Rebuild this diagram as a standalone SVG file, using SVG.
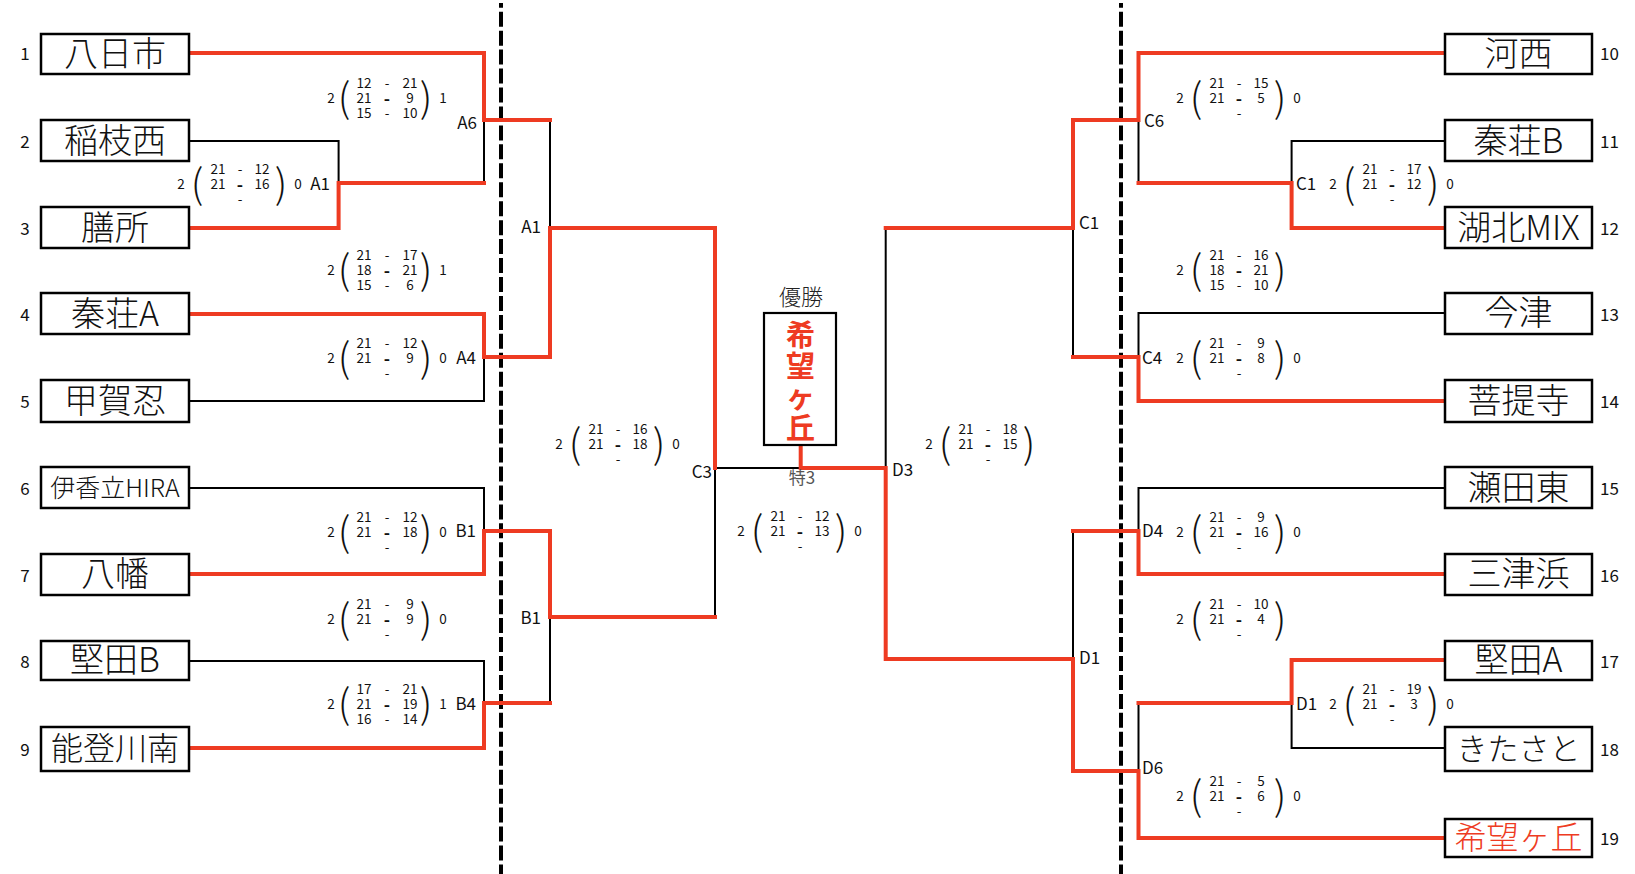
<svg xmlns="http://www.w3.org/2000/svg" width="1635" height="874" viewBox="0 0 1635 874">
<style>
text{font-family:"Noto Sans CJK JP","Noto Sans",sans-serif;fill:#111;dominant-baseline:central}
.box{fill:#fff;stroke:#000;stroke-width:2.5}
.nm{font-size:34px;text-anchor:middle;font-weight:300}
.no{font-size:17px;text-anchor:middle}
.lb{font-size:17px}
.e{text-anchor:end}
.b{fill:none;stroke:#000;stroke-width:2}
.r{fill:none;stroke:#ee3b22;stroke-width:4;stroke-linejoin:miter;stroke-linecap:square}
.dash{stroke:#000;stroke-width:4;stroke-dasharray:15 3.95;stroke-dashoffset:10.25}
.s text{font-size:13.5px;text-anchor:middle}
.s .p{font-size:40px;font-weight:300}
.s .m{font-size:17px;font-weight:700}
</style>

<line class="dash" x1="501" y1="3" x2="501" y2="874"/>
<line class="dash" x1="1121" y1="3" x2="1121" y2="874"/>

<g id="connectors">
<path class="b" d="M189,141 H338.6 V183 M484,120 V183 M189,401 H484 V357 M550,120 V228 M715,468 V617 M715,468 H800.7 M189,488 H484 V531 M189,661 H484 V703 M550,617 V703"/>
<path class="b" d="M1445,141 H1291.6 V183 M1138.5,120 V183 M1445,313 H1138.5 V357 M1073,228 V357 M885.7,228 V468 M1445,488 H1138.5 V531 M1445,748 H1291.6 V703 M1138.5,703 V771 M1073,531 V659"/>
<path class="r" d="M189,53 H484 V120 H550"/>
<path class="r" d="M189,228 H338.6 V183 H484"/>
<path class="r" d="M189,314 H484 V357 H550 V228 H715 V468"/>
<path class="r" d="M189,574 H484 V531 H550 V617 H715"/>
<path class="r" d="M189,748 H484 V703 H550"/>
<path class="r" d="M800.7,445 V468 H885.7 V659 H1073 V771 H1138.5 V838 H1445"/>
<path class="r" d="M1445,53 H1138.5 V120 H1073 V228 H885.7"/>
<path class="r" d="M1445,228 H1291.6 V183 H1138.5"/>
<path class="r" d="M1445,401 H1138.5 V357 H1073"/>
<path class="r" d="M1445,574 H1138.5 V531 H1073"/>
<path class="r" d="M1445,660 H1291.6 V703 H1138.5"/>
</g>

<g id="team1"><rect class="box" x="41" y="34" width="148" height="40"/><text class="nm" x="115" y="51">八日市</text><text class="no" x="25" y="52">1</text></g>
<g id="team2"><rect class="box" x="41" y="120" width="148" height="41"/><text class="nm" x="115" y="138">稲枝西</text><text class="no" x="25" y="140">2</text></g>
<g id="team3"><rect class="box" x="41" y="207" width="148" height="41"/><text class="nm" x="115" y="225">膳所</text><text class="no" x="25" y="227">3</text></g>
<g id="team4"><rect class="box" x="41" y="293" width="148" height="41"/><text class="nm" x="115" y="311">秦荘A</text><text class="no" x="25" y="313">4</text></g>
<g id="team5"><rect class="box" x="41" y="380" width="148" height="42"/><text class="nm" x="115" y="398">甲賀忍</text><text class="no" x="25" y="400">5</text></g>
<g id="team6"><rect class="box" x="41" y="467" width="148" height="41"/><text class="nm" x="115" y="486" style="font-size:25px">伊香立HIRA</text><text class="no" x="25" y="487">6</text></g>
<g id="team7"><rect class="box" x="41" y="554" width="148" height="41"/><text class="nm" x="115" y="571">八幡</text><text class="no" x="25" y="574">7</text></g>
<g id="team8"><rect class="box" x="41" y="641" width="148" height="39"/><text class="nm" x="115" y="657">堅田B</text><text class="no" x="25" y="660">8</text></g>
<g id="team9"><rect class="box" x="41" y="727" width="148" height="44"/><text class="nm" x="115" y="746" style="font-size:32px">能登川南</text><text class="no" x="25" y="748">9</text></g>

<g id="team10"><rect class="box" x="1445" y="34" width="147" height="40"/><text class="nm" x="1518.5" y="51">河西</text><text class="no" x="1609.5" y="52">10</text></g>
<g id="team11"><rect class="box" x="1445" y="120" width="147" height="41"/><text class="nm" x="1518.5" y="138">秦荘B</text><text class="no" x="1609.5" y="140">11</text></g>
<g id="team12"><rect class="box" x="1445" y="207" width="147" height="41"/><text class="nm" x="1518.5" y="225">湖北MIX</text><text class="no" x="1609.5" y="227">12</text></g>
<g id="team13"><rect class="box" x="1445" y="293" width="147" height="41"/><text class="nm" x="1518.5" y="310">今津</text><text class="no" x="1609.5" y="313">13</text></g>
<g id="team14"><rect class="box" x="1445" y="380" width="147" height="42"/><text class="nm" x="1518.5" y="398">菩提寺</text><text class="no" x="1609.5" y="400">14</text></g>
<g id="team15"><rect class="box" x="1445" y="467" width="147" height="41"/><text class="nm" x="1518.5" y="485">瀬田東</text><text class="no" x="1609.5" y="487">15</text></g>
<g id="team16"><rect class="box" x="1445" y="554" width="147" height="41"/><text class="nm" x="1518.5" y="571">三津浜</text><text class="no" x="1609.5" y="574">16</text></g>
<g id="team17"><rect class="box" x="1445" y="641" width="147" height="39"/><text class="nm" x="1518.5" y="657">堅田A</text><text class="no" x="1609.5" y="660">17</text></g>
<g id="team18"><rect class="box" x="1445" y="727" width="147" height="44"/><text class="nm" x="1518.5" y="746" style="font-size:31px">きたさと</text><text class="no" x="1609.5" y="748">18</text></g>
<g id="team19"><rect class="box" x="1445" y="819" width="147" height="38"/><text class="nm" x="1518.5" y="835" style="font-size:32px;fill:#ee3b22">希望ヶ丘</text><text class="no" x="1609.5" y="837">19</text></g>

<g id="champion">
<text x="801" y="295" style="font-size:22px;text-anchor:middle;fill:#222;font-weight:300">優勝</text>
<rect x="764" y="313" width="72" height="132" fill="#fff" stroke="#000" stroke-width="2.2"/>
<text style="font-size:29px;font-weight:700;text-anchor:middle;fill:#ee3b22"><tspan x="800.5" y="333">希</tspan><tspan x="800.5" y="364">望</tspan><tspan x="800.5" y="395">ヶ</tspan><tspan x="800.5" y="426">丘</tspan></text>
<text x="802" y="476" style="font-size:17px;text-anchor:middle;fill:#555">特3</text>
</g>

<g id="labels">
<text class="lb e" x="477" y="121">A6</text>
<text class="lb e" x="330" y="182">A1</text>
<text class="lb e" x="541" y="225">A1</text>
<text class="lb e" x="476" y="356">A4</text>
<text class="lb e" x="476" y="529">B1</text>
<text class="lb e" x="541" y="616">B1</text>
<text class="lb e" x="476" y="702">B4</text>
<text class="lb e" x="712" y="470">C3</text>
<text class="lb" x="892" y="468">D3</text>
<text class="lb" x="1144" y="119">C6</text>
<text class="lb" x="1296" y="182">C1</text>
<text class="lb" x="1079" y="221">C1</text>
<text class="lb" x="1142" y="356">C4</text>
<text class="lb" x="1142" y="529">D4</text>
<text class="lb" x="1079" y="656">D1</text>
<text class="lb" x="1296" y="702">D1</text>
<text class="lb" x="1142" y="766">D6</text>
</g>

<g id="scores" class="s">
<g transform="translate(331,97)"><text x="0" y="0">2</text><text class="p" x="13" y="-2">(</text><text x="33" y="-15">12</text><text x="56" y="-15">-</text><text x="79" y="-15">21</text><text x="33" y="0">21</text><text class="m" x="56" y="0">-</text><text x="79" y="0">9</text><text x="33" y="15">15</text><text x="56" y="15">-</text><text x="79" y="15">10</text><text class="p" x="95" y="-2">)</text><text x="112" y="0">1</text></g>
<g transform="translate(331,269)"><text x="0" y="0">2</text><text class="p" x="13" y="-2">(</text><text x="33" y="-15">21</text><text x="56" y="-15">-</text><text x="79" y="-15">17</text><text x="33" y="0">18</text><text class="m" x="56" y="0">-</text><text x="79" y="0">21</text><text x="33" y="15">15</text><text x="56" y="15">-</text><text x="79" y="15">6</text><text class="p" x="95" y="-2">)</text><text x="112" y="0">1</text></g>
<g transform="translate(331,357)"><text x="0" y="0">2</text><text class="p" x="13" y="-2">(</text><text x="33" y="-15">21</text><text x="56" y="-15">-</text><text x="79" y="-15">12</text><text x="33" y="0">21</text><text class="m" x="56" y="0">-</text><text x="79" y="0">9</text><text x="56" y="15">-</text><text class="p" x="95" y="-2">)</text><text x="112" y="0">0</text></g>
<g transform="translate(331,531)"><text x="0" y="0">2</text><text class="p" x="13" y="-2">(</text><text x="33" y="-15">21</text><text x="56" y="-15">-</text><text x="79" y="-15">12</text><text x="33" y="0">21</text><text class="m" x="56" y="0">-</text><text x="79" y="0">18</text><text x="56" y="15">-</text><text class="p" x="95" y="-2">)</text><text x="112" y="0">0</text></g>
<g transform="translate(331,618)"><text x="0" y="0">2</text><text class="p" x="13" y="-2">(</text><text x="33" y="-15">21</text><text x="56" y="-15">-</text><text x="79" y="-15">9</text><text x="33" y="0">21</text><text class="m" x="56" y="0">-</text><text x="79" y="0">9</text><text x="56" y="15">-</text><text class="p" x="95" y="-2">)</text><text x="112" y="0">0</text></g>
<g transform="translate(331,703)"><text x="0" y="0">2</text><text class="p" x="13" y="-2">(</text><text x="33" y="-15">17</text><text x="56" y="-15">-</text><text x="79" y="-15">21</text><text x="33" y="0">21</text><text class="m" x="56" y="0">-</text><text x="79" y="0">19</text><text x="33" y="15">16</text><text x="56" y="15">-</text><text x="79" y="15">14</text><text class="p" x="95" y="-2">)</text><text x="112" y="0">1</text></g>

<g transform="translate(181,183)"><text x="0" y="0">2</text><text class="p" x="16" y="-2">(</text><text x="37" y="-15">21</text><text x="59" y="-15">-</text><text x="81" y="-15">12</text><text x="37" y="0">21</text><text class="m" x="59" y="0">-</text><text x="81" y="0">16</text><text x="59" y="15">-</text><text class="p" x="100" y="-2">)</text><text x="117" y="0">0</text></g>
<g transform="translate(559,443)"><text x="0" y="0">2</text><text class="p" x="16" y="-2">(</text><text x="37" y="-15">21</text><text x="59" y="-15">-</text><text x="81" y="-15">16</text><text x="37" y="0">21</text><text class="m" x="59" y="0">-</text><text x="81" y="0">18</text><text x="59" y="15">-</text><text class="p" x="100" y="-2">)</text><text x="117" y="0">0</text></g>
<g transform="translate(741,530)"><text x="0" y="0">2</text><text class="p" x="16" y="-2">(</text><text x="37" y="-15">21</text><text x="59" y="-15">-</text><text x="81" y="-15">12</text><text x="37" y="0">21</text><text class="m" x="59" y="0">-</text><text x="81" y="0">13</text><text x="59" y="15">-</text><text class="p" x="100" y="-2">)</text><text x="117" y="0">0</text></g>
<g transform="translate(929,443)"><text x="0" y="0">2</text><text class="p" x="16" y="-2">(</text><text x="37" y="-15">21</text><text x="59" y="-15">-</text><text x="81" y="-15">18</text><text x="37" y="0">21</text><text class="m" x="59" y="0">-</text><text x="81" y="0">15</text><text x="59" y="15">-</text><text class="p" x="100" y="-2">)</text></g>
<g transform="translate(1180,97)"><text x="0" y="0">2</text><text class="p" x="16" y="-2">(</text><text x="37" y="-15">21</text><text x="59" y="-15">-</text><text x="81" y="-15">15</text><text x="37" y="0">21</text><text class="m" x="59" y="0">-</text><text x="81" y="0">5</text><text x="59" y="15">-</text><text class="p" x="100" y="-2">)</text><text x="117" y="0">0</text></g>
<g transform="translate(1333,183)"><text x="0" y="0">2</text><text class="p" x="16" y="-2">(</text><text x="37" y="-15">21</text><text x="59" y="-15">-</text><text x="81" y="-15">17</text><text x="37" y="0">21</text><text class="m" x="59" y="0">-</text><text x="81" y="0">12</text><text x="59" y="15">-</text><text class="p" x="100" y="-2">)</text><text x="117" y="0">0</text></g>
<g transform="translate(1180,269)"><text x="0" y="0">2</text><text class="p" x="16" y="-2">(</text><text x="37" y="-15">21</text><text x="59" y="-15">-</text><text x="81" y="-15">16</text><text x="37" y="0">18</text><text class="m" x="59" y="0">-</text><text x="81" y="0">21</text><text x="37" y="15">15</text><text x="59" y="15">-</text><text x="81" y="15">10</text><text class="p" x="100" y="-2">)</text></g>
<g transform="translate(1180,357)"><text x="0" y="0">2</text><text class="p" x="16" y="-2">(</text><text x="37" y="-15">21</text><text x="59" y="-15">-</text><text x="81" y="-15">9</text><text x="37" y="0">21</text><text class="m" x="59" y="0">-</text><text x="81" y="0">8</text><text x="59" y="15">-</text><text class="p" x="100" y="-2">)</text><text x="117" y="0">0</text></g>
<g transform="translate(1180,531)"><text x="0" y="0">2</text><text class="p" x="16" y="-2">(</text><text x="37" y="-15">21</text><text x="59" y="-15">-</text><text x="81" y="-15">9</text><text x="37" y="0">21</text><text class="m" x="59" y="0">-</text><text x="81" y="0">16</text><text x="59" y="15">-</text><text class="p" x="100" y="-2">)</text><text x="117" y="0">0</text></g>
<g transform="translate(1180,618)"><text x="0" y="0">2</text><text class="p" x="16" y="-2">(</text><text x="37" y="-15">21</text><text x="59" y="-15">-</text><text x="81" y="-15">10</text><text x="37" y="0">21</text><text class="m" x="59" y="0">-</text><text x="81" y="0">4</text><text x="59" y="15">-</text><text class="p" x="100" y="-2">)</text></g>
<g transform="translate(1333,703)"><text x="0" y="0">2</text><text class="p" x="16" y="-2">(</text><text x="37" y="-15">21</text><text x="59" y="-15">-</text><text x="81" y="-15">19</text><text x="37" y="0">21</text><text class="m" x="59" y="0">-</text><text x="81" y="0">3</text><text x="59" y="15">-</text><text class="p" x="100" y="-2">)</text><text x="117" y="0">0</text></g>
<g transform="translate(1180,795)"><text x="0" y="0">2</text><text class="p" x="16" y="-2">(</text><text x="37" y="-15">21</text><text x="59" y="-15">-</text><text x="81" y="-15">5</text><text x="37" y="0">21</text><text class="m" x="59" y="0">-</text><text x="81" y="0">6</text><text x="59" y="15">-</text><text class="p" x="100" y="-2">)</text><text x="117" y="0">0</text></g>
</g>
</svg>
